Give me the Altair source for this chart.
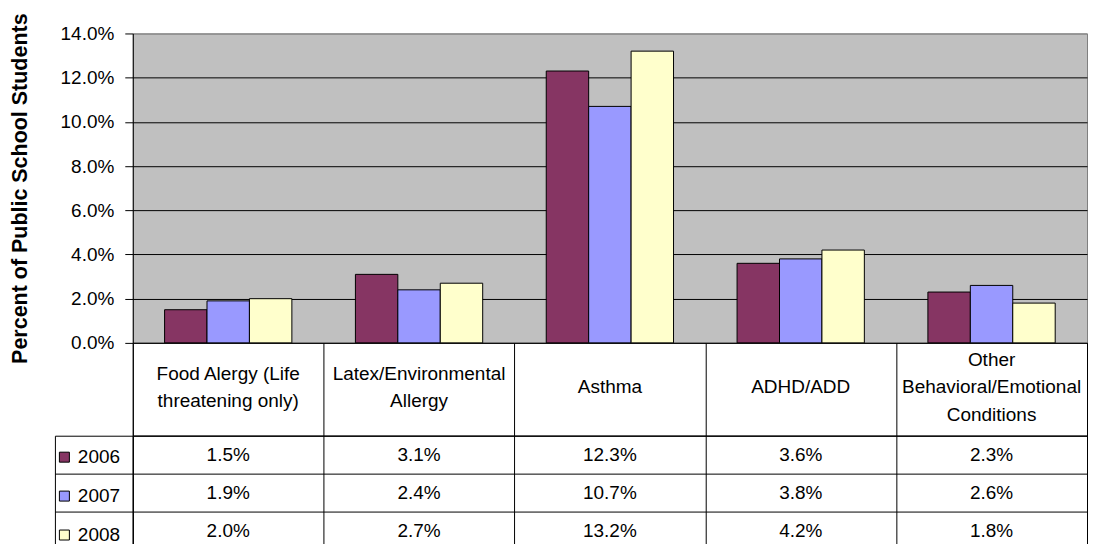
import altair as alt
import pandas as pd

categories = [
    "Food Alergy (Life threatening only)",
    "Latex/Environmental Allergy",
    "Asthma",
    "ADHD/ADD",
    "Other Behavioral/Emotional Conditions",
]
header_labels = [
    "Food Alergy (Life\nthreatening only)",
    "Latex/Environmental\nAllergy",
    "Asthma",
    "ADHD/ADD",
    "Other\nBehavioral/Emotional\nConditions",
]
years = ["2006", "2007", "2008"]
values_2006 = [1.5, 3.1, 12.3, 3.6, 2.3]
values_2007 = [1.9, 2.4, 10.7, 3.8, 2.6]
values_2008 = [2.0, 2.7, 13.2, 4.2, 1.8]
year_colors = ["#863563", "#9999FF", "#FFFFCC"]
y_ticks = [0, 2, 4, 6, 8, 10, 12, 14]

rows = []
for year, vals in zip(years, [values_2006, values_2007, values_2008]):
    for cat, v in zip(categories, vals):
        rows.append({"category": cat, "year": year, "value": v, "label": f"{v:.1f}%"})
df = pd.DataFrame(rows)

header_rows = []
for cat, lab in zip(categories, header_labels):
    lines = lab.split("\n")
    n = len(lines)
    for i, line in enumerate(lines):
        header_rows.append({"category": cat, "line": line, "pos": (n - 1) / 2 - i})
header_df = pd.DataFrame(header_rows)

FONT = "Liberation Sans"
W = 956
FS = 19

bars = alt.Chart(df).mark_bar(stroke="black", strokeWidth=1, strokeOpacity=1).encode(
    x=alt.X("category:N", sort=categories,
            scale=alt.Scale(paddingInner=0.333, paddingOuter=0.1667),
            axis=alt.Axis(labels=False, ticks=False, title=None, grid=False,
                          domainColor="black")),
    xOffset=alt.XOffset("year:N", sort=years,
                        scale=alt.Scale(paddingInner=0, paddingOuter=0)),
    y=alt.Y("value:Q", scale=alt.Scale(domain=[0, 14], nice=False, zero=True),
            axis=alt.Axis(values=y_ticks,
                          labelExpr="format(datum.value, '.1f') + '%'",
                          title="Percent of Public School Students",
                          titleFontSize=21.5, titleFontWeight="bold", titleFont=FONT,
                          titleColor="black", titlePadding=29,
                          labelFontSize=FS, labelFont=FONT, labelColor="black",
                          labelPadding=11, tickSize=8, tickColor="black",
                          domainColor="black", grid=True,
                          gridColor=alt.condition("datum.value == 14",
                                                  alt.value("#808080"),
                                                  alt.value("black")),
                          gridOpacity=1)),
    color=alt.Color("year:N", sort=years,
                    scale=alt.Scale(domain=years, range=year_colors),
                    legend=alt.Legend(orient="none", legendX=-78, legendY=415,
                                      title=None, symbolType="square",
                                      symbolSize=100, symbolStrokeColor="black",
                                      symbolStrokeWidth=1, symbolOpacity=1,
                                      labelFontSize=FS, labelFont=FONT,
                                      labelColor="black", rowPadding=19,
                                      padding=0, labelOffset=4)),
).properties(width=W, height=310,
             view=alt.ViewBackground(fill="#C0C0C0", stroke="#808080"))

x_table = alt.X("category:N", sort=categories,
                scale=alt.Scale(paddingInner=0, paddingOuter=0),
                axis=alt.Axis(labels=False, ticks=False, domain=False, title=None,
                              grid=True, gridColor="black", gridOpacity=1,
                              tickBand="extent"))

header = alt.Chart(header_df).mark_text(
    font=FONT, fontSize=FS, baseline="middle", align="center", color="black"
).encode(
    x=x_table,
    y=alt.Y("pos:Q", scale=alt.Scale(domain=[-1.76, 1.62], nice=False, zero=False),
            axis=None),
    text="line:N",
).properties(width=W, height=93,
             view=alt.ViewBackground(fill="white", stroke="black"))

cells = alt.Chart(df).mark_text(font=FONT, fontSize=FS, color="black").encode(
    x=x_table,
    y=alt.Y("year:N", sort=years,
            scale=alt.Scale(paddingInner=0, paddingOuter=0),
            axis=alt.Axis(labels=False, title=None, ticks=True, tickSize=78,
                          tickColor="black", domain=True, domainColor="black",
                          grid=True, gridColor="black", gridOpacity=1,
                          tickBand="extent")),
    text="label:N",
)

border = alt.Chart(df).mark_text(opacity=0).encode(
    x=x_table,
    y=alt.Y("year:N", sort=years,
            scale=alt.Scale(paddingInner=0, paddingOuter=0),
            axis=alt.Axis(orient="left", offset=78, labels=False, title=None,
                          ticks=False, domain=True, domainColor="black",
                          grid=False)),
    text="label:N",
)

table = alt.layer(cells, border).resolve_scale(y="independent").resolve_axis(
    y="independent"
).properties(width=W, height=114)

chart = alt.vconcat(bars, header, table, spacing=0, bounds="flush").properties(
    padding={"left": 0, "top": 3, "right": 0, "bottom": 0}
).configure(
    font=FONT
).configure_view(stroke="black", fill="white")

chart.save("out.html", embed_options={"renderer": "svg", "actions": False})
